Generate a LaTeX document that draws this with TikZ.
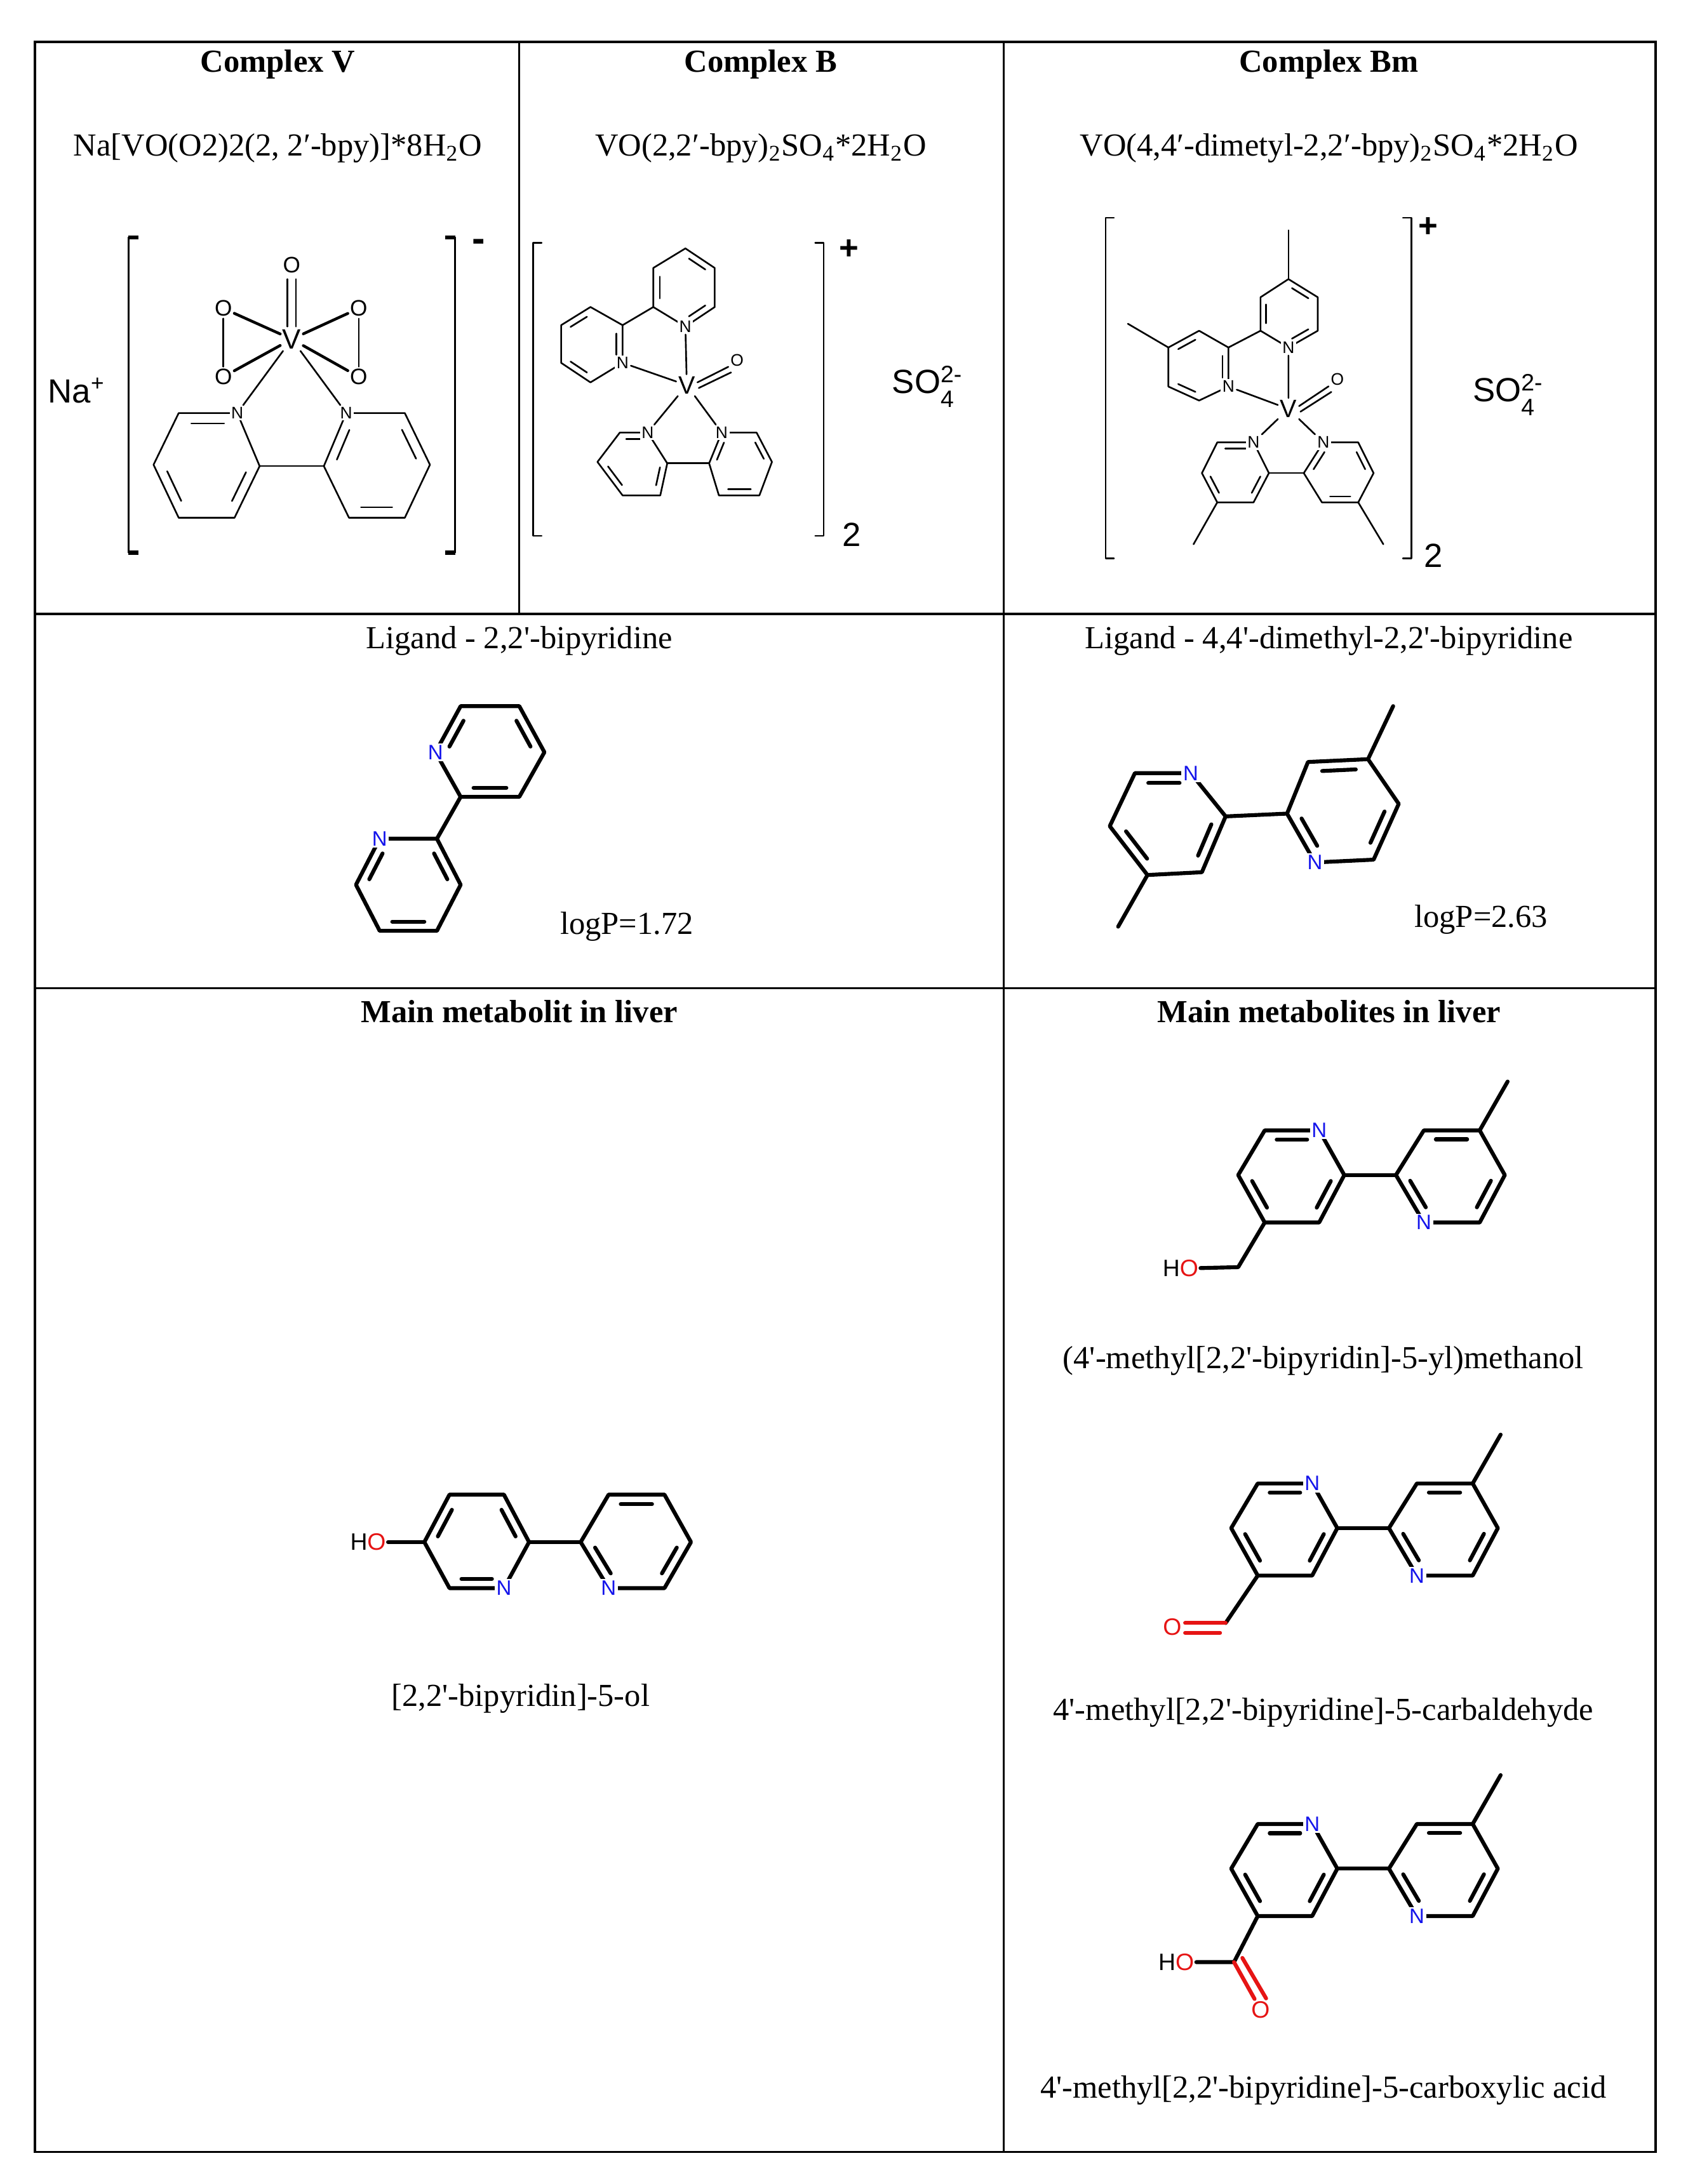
\documentclass[tikz,border=0pt]{standalone}
\usepackage{fontspec}
\setmainfont{Liberation Serif}
\setsansfont{Liberation Sans}
\usetikzlibrary{calc}
\newcommand\ring[7]{\coordinate (#11) at #2; \coordinate (#12) at #3; \coordinate (#13) at #4;
 \coordinate (#14) at #5; \coordinate (#15) at #6; \coordinate (#16) at #7;
 \coordinate (#1o) at ($(#11)!0.5!(#14)$);
 \draw[bond] (#11)--(#12)--(#13)--(#14)--(#15)--(#16)--cycle;}
\newcommand\ib[3]{\coordinate (ta) at ($(#1#2)!0.2!(#1o)$); \coordinate (tb) at ($(#1#3)!0.2!(#1o)$);
 \draw[bond] ($(ta)!0.15!(tb)$) -- ($(tb)!0.15!(ta)$);}
\newcommand\q{\textquotesingle}
\newcommand\sulf{SO\raisebox{-0.42em}{\fontsize{8.5}{8}\selectfont\shortstack[l]{2-\\4}}}
\definecolor{nblue}{RGB}{20,20,235}
\definecolor{ored}{RGB}{230,20,20}
\tikzset{
 bond/.style={line width=0.6pt, line cap=round, line join=round},
 grid/.style={line width=0.8pt},
 head/.style={font=\bfseries\fontsize{11.5}{13}\selectfont},
 txt/.style={font=\fontsize{11.5}{13}\selectfont},
 atom/.style={fill=white, inner sep=0.6pt, font=\sffamily\fontsize{6}{7}\selectfont},
 atomN/.style={atom, text=nblue, font=\sffamily\fontsize{7.5}{8}\selectfont},
 atomO/.style={atom, text=ored, font=\sffamily\fontsize{8.5}{9}\selectfont},
 big/.style={font=\sffamily\fontsize{12}{14}\selectfont, inner sep=0pt},
 thick bonds/.style={bond/.style={line width=1.4pt, line cap=round, line join=round}},
}
\begin{document}
\begin{tikzpicture}[x=0.5pt,y=-0.5pt]
\useasboundingbox (0,0) rectangle (1209,1565);
\fill[white] (0,0) rectangle (1209,1565);
% table
\draw[grid] (25,30) rectangle (1186,1542);
\draw[grid] (25,440) -- (1186,440);
\draw[grid] (25,708) -- (1186,708);
\draw[grid] (372,30) -- (372,440);
\draw[grid] (719,30) -- (719,1542);
% headings
\node[head] (h1) at (199,46) {Complex V};
\node[head] (h2) at (545,46) {Complex B};
\node[head] (h3) at (952,46) {Complex Bm};
\node[txt] (f1) at (199,106) {Na[VO(O2)2(2, 2′-bpy)]*8H\textsubscript{2}O};
\node[txt] (f2) at (545,106) {VO(2,2′-bpy)\textsubscript{2}SO\textsubscript{4}*2H\textsubscript{2}O};
\node[txt] (f3) at (952,106) {VO(4,4′-dimetyl-2,2′-bpy)\textsubscript{2}SO\textsubscript{4}*2H\textsubscript{2}O};
\node[txt] (l1) at (372,459) {Ligand - 2,2\q-bipyridine};
\node[txt] (l2) at (952,459) {Ligand - 4,4\q-dimethyl-2,2\q-bipyridine};
\node[head] (m1) at (372,725) {Main metabolit in liver};
\node[head] (m2) at (952,725) {Main metabolites in liver};

% ---------- Complex V
\draw[bond] (92,170) -- (92,396);
\draw[line width=1.4pt] (92,170) -- (99,170) (92,396) -- (99,396);
\draw[bond] (326,170) -- (326,396);
\draw[line width=1.4pt] (319,170) -- (326,170) (319,396) -- (326,396);
\node[big,font=\sffamily\bfseries\fontsize{14}{14}\selectfont] (vm) at (343,176) {-};
\node[big] (na) at (55,280) {Na\textsuperscript{+}};
\ring{VL}{(128,296)}{(170,296)}{(186,334)}{(168,371)}{(128,371)}{(110,333)}
\ib{VL}{1}{2}\ib{VL}{5}{6}\ib{VL}{3}{4}
\ring{VR}{(248,296)}{(290,296)}{(308,333)}{(290,371)}{(250,371)}{(232,334)}
\ib{VR}{2}{3}\ib{VR}{4}{5}\ib{VR}{6}{1}
\draw[bond] (VL3) -- (VR6);
\node[atom] (vn1) at (VL2) {N};
\node[atom] (vn2) at (VR1) {N};
\node[atom,font=\sffamily\fontsize{10}{10}\selectfont] (vv) at (209,243) {V};
\node[atom,font=\sffamily\fontsize{8}{8}\selectfont] (vo) at (209,190) {O};
\node[atom,font=\sffamily\fontsize{8}{8}\selectfont] (vo1) at (160,221) {O};
\node[atom,font=\sffamily\fontsize{8}{8}\selectfont] (vo2) at (160,270) {O};
\node[atom,font=\sffamily\fontsize{8}{8}\selectfont] (vo3) at (257,221) {O};
\node[atom,font=\sffamily\fontsize{8}{8}\selectfont] (vo4) at (257,270) {O};
\draw[bond] (206,200) -- (206,234) (212,200) -- (212,234);
\draw[bond] (vo1) -- (vo2) (vo3) -- (vo4);
\draw[bond,line width=1pt] (vv) -- (vo1) (vv) -- (vo2) (vv) -- (vo3) (vv) -- (vo4);
\draw[bond] (vv) -- (vn1) (vv) -- (vn2);

% ---------- Complex B
\draw[bond] (388,174) -- (382,174) -- (382,384) -- (388,384);
\draw[bond] (584,174) -- (590,174) -- (590,384) -- (584,384);
\node[big,font=\sffamily\bfseries\fontsize{12}{14}\selectfont] (bp) at (608,179) {+};
\node[big] (b2) at (610,383) {2};
\node[big] (bs) at (664,277) {\sulf};
\ring{BT}{(491,178)}{(512,192)}{(512,220)}{(491,234)}{(468,220)}{(468,192)}
\ib{BT}{1}{2}\ib{BT}{5}{6}\ib{BT}{3}{4}
\ring{BL}{(423,220)}{(446,233)}{(446,260)}{(423,274)}{(402,260)}{(402,233)}
\ib{BL}{1}{6}\ib{BL}{2}{3}\ib{BL}{4}{5}
\draw[bond] (BT5) -- (BL2);
\ring{BB}{(464,310)}{(478,332)}{(473,355)}{(446,355)}{(428,331)}{(444,310)}
\ib{BB}{6}{1}\ib{BB}{2}{3}\ib{BB}{4}{5}
\ring{BC}{(517,310)}{(542,310)}{(553,331)}{(544,355)}{(515,355)}{(508,332)}
\ib{BC}{1}{6}\ib{BC}{2}{3}\ib{BC}{4}{5}
\draw[bond] (BB2) -- (BC6);
\node[atom] (bn1) at (BT4) {N};
\node[atom] (bn2) at (BL3) {N};
\node[atom] (bn3) at (BB1) {N};
\node[atom] (bn4) at (BC1) {N};
\node[atom,font=\sffamily\fontsize{9}{9}\selectfont] (bv) at (492,276) {V};
\node[atom] (bo) at (528,258) {O};
\draw[bond] (bv) -- (bn1) (bv) -- (bn2) (bv) -- (bn3) (bv) -- (bn4);
\draw[bond] ($(bv.east)+(0,-2)$) -- ($(bo.south west)+(0,-1)$) ($(bv.east)+(1,2)$) -- ($(bo.south west)+(2,3)$);

% ---------- Complex Bm
\draw[bond] (798,156) -- (792,156) -- (792,400) -- (798,400);
\draw[bond] (1005,156) -- (1011,156) -- (1011,400) -- (1005,400);
\node[big,font=\sffamily\bfseries\fontsize{12}{14}\selectfont] (mp) at (1023,163) {+};
\node[big] (m2x) at (1027,398) {2};
\node[big] (ms) at (1080,283) {\sulf};
\ring{MT}{(923,200)}{(944,213)}{(944,237)}{(923,249)}{(903,237)}{(903,213)}
\ib{MT}{1}{2}\ib{MT}{3}{4}\ib{MT}{5}{6}
\draw[bond] (MT1) -- (923,165);
\ring{ML}{(859,237)}{(880,249)}{(880,277)}{(859,287)}{(837,277)}{(837,249)}
\ib{ML}{1}{6}\ib{ML}{2}{3}\ib{ML}{4}{5}
\draw[bond] (ML6) -- (808,232);
\draw[bond] (ML2) -- (MT5);
\ring{MB}{(898,317)}{(909,339)}{(898,360)}{(872,360)}{(861,339)}{(872,317)}
\ib{MB}{6}{1}\ib{MB}{2}{3}\ib{MB}{4}{5}
\draw[bond] (MB4) -- (855,390);
\ring{MC}{(948,317)}{(973,317)}{(984,339)}{(973,360)}{(947,360)}{(934,339)}
\ib{MC}{1}{6}\ib{MC}{2}{3}\ib{MC}{4}{5}
\draw[bond] (MC4) -- (991,390);
\draw[bond] (MB2) -- (MC6);
\node[atom] (mn1) at (MT4) {N};
\node[atom] (mn2) at (ML3) {N};
\node[atom] (mn3) at (MB1) {N};
\node[atom] (mn4) at (MC1) {N};
\node[atom,font=\sffamily\fontsize{9}{9}\selectfont] (mv) at (923,293) {V};
\node[atom] (mo) at (958,272) {O};
\draw[bond] (mv) -- (mn1) (mv) -- (mn2) (mv) -- (mn3) (mv) -- (mn4);
\draw[bond] ($(mv.east)+(0,-2)$) -- ($(mo.south west)+(0,-1)$) ($(mv.east)+(1,2)$) -- ($(mo.south west)+(2,3)$);

% ---------- thick drawings
\begin{scope}[thick bonds]
% ligand 1
\ring{LA}{(330,506)}{(372,506)}{(390,539)}{(372,571)}{(330,571)}{(312,539)}
\ib{LA}{6}{1}\ib{LA}{2}{3}\ib{LA}{4}{5}
\ring{LB}{(272,601)}{(313,601)}{(330,634)}{(313,667)}{(272,667)}{(255,634)}
\ib{LB}{6}{1}\ib{LB}{2}{3}\ib{LB}{4}{5}
\draw[bond] (LA5) -- (LB2);
\node[atomN] (ln1) at (LA6) {N};
\node[atomN] (ln2) at (LB1) {N};
\node[txt] (lp1) at (449,664) {logP=1.72};
% ligand 2
\ring{LC}{(813,554)}{(853,554)}{(878,585)}{(861,625)}{(822,627)}{(795,592)}
\ib{LC}{1}{2}\ib{LC}{3}{4}\ib{LC}{5}{6}
\draw[bond] (LC5) -- (801,664);
\ring{LD}{(922,583)}{(937,546)}{(980,544)}{(1002,576)}{(984,616)}{(942,618)}
\ib{LD}{6}{1}\ib{LD}{2}{3}\ib{LD}{4}{5}
\draw[bond] (LD3) -- (998,506);
\draw[bond] (LC3) -- (LD1);
\node[atomN] (ln3) at (LC2) {N};
\node[atomN] (ln4) at (LD6) {N};
\node[txt] (lp2) at (1061,659) {logP=2.63};
% metabolite left
\ring{MA}{(304,1105)}{(322,1071)}{(361,1071)}{(379,1105)}{(361,1138)}{(322,1138)}
\ib{MA}{1}{2}\ib{MA}{3}{4}\ib{MA}{5}{6}
\ring{MD}{(416,1105)}{(436,1071)}{(476,1071)}{(495,1105)}{(476,1138)}{(436,1138)}
\ib{MD}{6}{1}\ib{MD}{2}{3}\ib{MD}{4}{5}
\draw[bond] (MA4) -- (MD1);
\node[atomN] (an1) at (MA5) {N};
\node[atomN] (an2) at (MD6) {N};
\node[atomO,anchor=east,text=black] (aho) at (278,1105) {H\textcolor{ored}{O}};
\draw[bond] (aho) -- (MA1);
\node[txt] (at) at (373,1217) {[2,2\q-bipyridin]-5-ol};
% right metabolites
\foreach \dx/\dy/\pp/\qq in {0/0/P/Q, -5/253/R/S, -5/497/T/U}{
 \begin{scope}[shift={(\dx,\dy)}]
 \ring{\pp}{(945,810)}{(963,842)}{(945,876)}{(906,876)}{(887,842)}{(906,810)}
 \ib{\pp}{6}{1}\ib{\pp}{2}{3}\ib{\pp}{4}{5}
 \ring{\qq}{(1000,842)}{(1020,810)}{(1060,810)}{(1078,842)}{(1060,876)}{(1020,876)}
 \ib{\qq}{6}{1}\ib{\qq}{2}{3}\ib{\qq}{4}{5}
 \draw[bond] (\qq3) -- (1080,775);
 \draw[bond] (\pp2) -- (\qq1);
 \node[atomN] at (\pp1) {N};
 \node[atomN] at (\qq6) {N};
 \end{scope}}
\coordinate (c1) at (887,908);
\node[atomO,anchor=east,text=black] (ho1) at (860,909) {H\textcolor{ored}{O}};
\draw[bond] (P4) -- (c1) -- (ho1);
\node[txt] (t1) at (948,975) {(4\q-methyl[2,2\q-bipyridin]-5-yl)methanol};
\coordinate (c2) at (878,1163);
\node[atomO,anchor=east] (o2) at (848,1166) {O};
\draw[bond] (R4) -- (c2);
\draw[bond,ored] (c2) -- +(-29,0);
\draw[bond,ored] ($(c2)+(-4,7)$) -- +(-25,0);
\node[txt] (t2) at (948,1227) {4\q-methyl[2,2\q-bipyridine]-5-carbaldehyde};
\coordinate (c3) at (884,1406);
\node[atomO,anchor=east,text=black] (ho3) at (857,1406) {H\textcolor{ored}{O}};
\node[atomO] (o3) at (903,1440) {O};
\draw[bond] (T4) -- (c3) -- (ho3);
\draw[bond,ored] (c3) -- (o3);
\draw[bond,ored] ($(c3)+(6,-3)$) -- ($(o3)+(4,-8)$);
\node[txt] (t3) at (948,1498) {4\q-methyl[2,2\q-bipyridine]-5-carboxylic acid};
\end{scope}
\end{tikzpicture}
\end{document}
